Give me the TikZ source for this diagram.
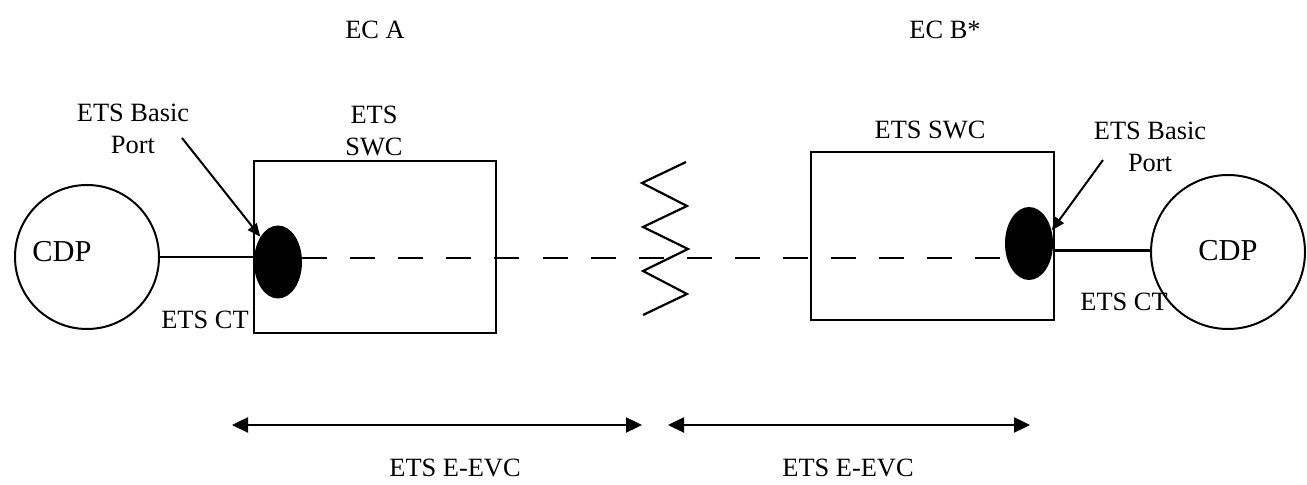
\documentclass[tikz,border=0pt]{standalone}
\usepackage{fontspec}
\setmainfont{Liberation Serif}
\usetikzlibrary{arrows.meta, shapes.geometric}

\tikzset{
  lbl/.style={font=\fontsize{13.2}{16}\selectfont, align=center, inner sep=0pt},
  cdpnode/.style={draw, circle, line width=1pt, inner sep=0pt},
  cdptext/.style={font=\fontsize{15.2}{18}\selectfont, inner sep=0pt},
  swcbox/.style={draw, rectangle, line width=1pt, inner sep=0pt},
  portnode/.style={ellipse, fill=black, inner sep=0pt, minimum width=24pt, minimum height=36.5pt},
  wire/.style={line width=1.1pt},
  evcline/.style={line width=1.2pt, {Triangle[length=8pt,width=7.5pt]}-{Triangle[length=8pt,width=7.5pt]}},
  pointer/.style={line width=1pt, -{Triangle[length=6.5pt,width=5.5pt]}}
}

\begin{document}
\begin{tikzpicture}[x=0.5pt, y=-0.5pt]
    \useasboundingbox (0,0) rectangle (1307,485);

    % Titel
    \node[lbl] (ecA) at (375,30) {EC A};
    \node[lbl] (ecB) at (945,30) {EC B*};

    % linke Seite
    \node[cdpnode, minimum size=72pt] (cdpA) at (87,257) {};
    \node[cdptext] (cdpAtxt) at (62,252) {CDP};
    \node[swcbox, minimum width=121pt, minimum height=86pt] (swcA) at (375,247) {};
    \node[lbl] (swcAlbl) at (374,131) {ETS\\SWC};
    \node[lbl] (bpA) at (133,129) {ETS Basic\\Port};
    \node[lbl] (ctA) at (205,320) {ETS CT};

    % rechte Seite
    \node[cdpnode, minimum size=77pt] (cdpB) at (1228,252) {};
    \node[cdptext] (cdpBtxt) at (1228,251) {CDP};
    \node[swcbox, minimum width=121.5pt, minimum height=84pt] (swcB) at (932.5,236) {};
    \node[lbl] (swcBlbl) at (930,130) {ETS SWC};
    \node[lbl] (bpB) at (1150,147) {ETS Basic\\Port};
    \node[lbl] (ctB) at (1124,302) {ETS CT};

    % Verbindung (gestrichelt)
    \coordinate (dashA) at (302,258);
    \coordinate (dashB) at (1006,258);
    \draw[wire, dash pattern=on 12.5pt off 11.55pt] (dashA) -- (dashB);

    % Ports
    \node[portnode] (portA) at (278,262) {};
    \node[portnode] (portB) at (1029,243.5) {};

    % CT-Leitungen
    \draw[wire] (cdpA.east) -- (cdpA.east -| portA.west);
    \draw[wire] ([yshift=-3.5pt]portB.east) -- ([yshift=-3.5pt]portB.east -| cdpB.west);

    % Zickzack
    \draw[wire] (686,162) -- (642,183) -- (687,206) -- (643,227)
        -- (688,249) -- (643,271) -- (687,294) -- (643,315);

    % Hinweispfeile
    \coordinate (bpAtail) at (182,138);
    \coordinate (bpBtail) at (1103,160);
    \draw[pointer] (bpAtail) -- (portA.125);
    \draw[pointer] (bpBtail) -- (portB.30);

    % E-EVC
    \coordinate (evcAl) at (232,425);
    \coordinate (evcAr) at (642,425);
    \coordinate (evcBl) at (668,425);
    \coordinate (evcBr) at (1030,425);
    \draw[evcline] (evcAl) -- (evcAr);
    \draw[evcline] (evcBl) -- (evcBr);
    \node[lbl] (evcA) at (455,468) {ETS E-EVC};
    \node[lbl] (evcB) at (848,468) {ETS E-EVC};
\end{tikzpicture}
\end{document}
